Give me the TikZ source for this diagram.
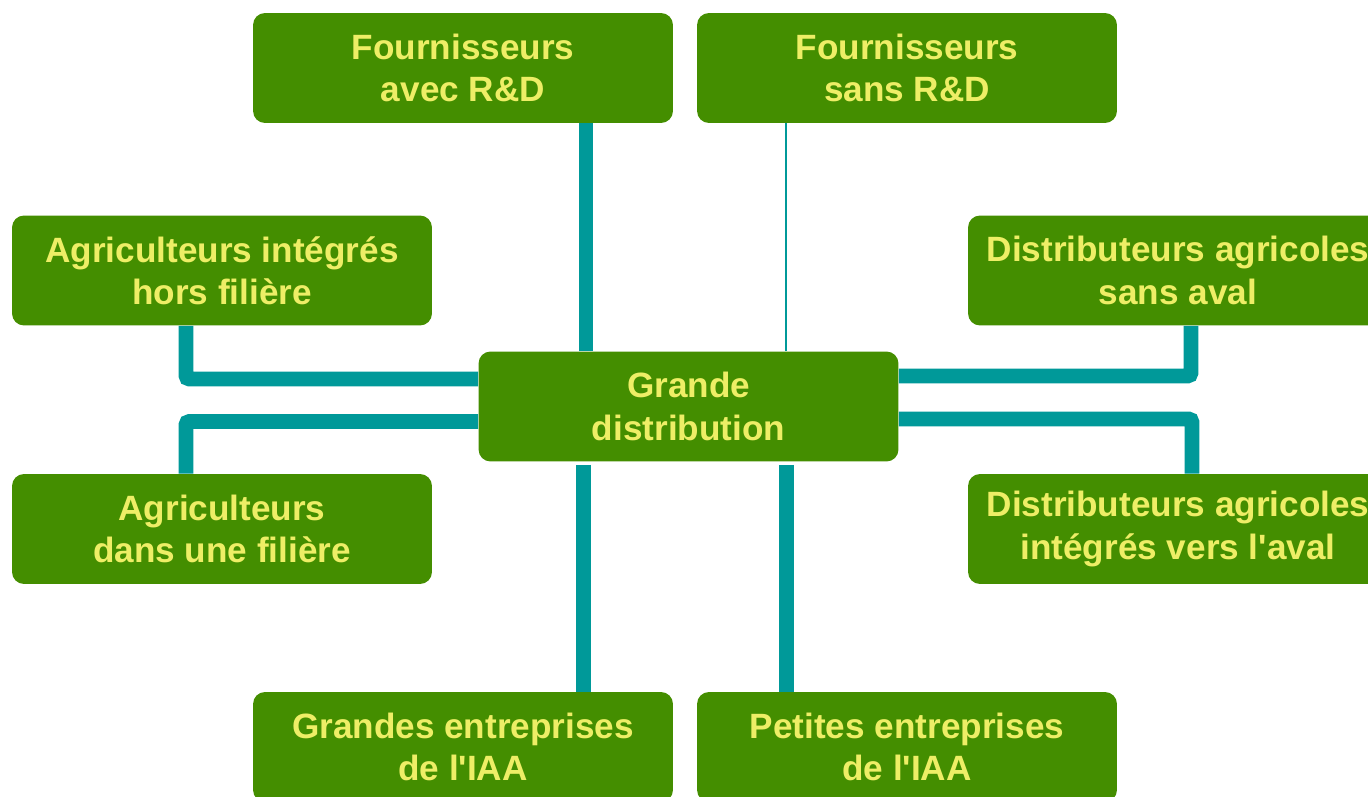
\documentclass[tikz,border=0pt]{standalone}
\usepackage{fontspec}
\setmainfont{Liberation Sans}
\usetikzlibrary{calc}

\definecolor{boxgreen}{HTML}{448E00}
\definecolor{boxtext}{HTML}{EEEE66}
\definecolor{linkteal}{HTML}{009999}

\tikzset{
  actor/.style={fill=boxgreen, rounded corners=0.24cm, minimum width=8.4cm, minimum height=2.2cm,
    align=center, text=boxtext, font=\fontsize{20}{24}\selectfont\bfseries, inner sep=0pt},
  link/.style={draw=linkteal, line width=8.5pt, rounded corners=2pt},
  thinlink/.style={draw=linkteal, line width=1pt}
}

\begin{document}
\begin{tikzpicture}[x=0.02cm, y=-0.02cm] % one unit is one pixel of the reference
      \useasboundingbox (0,0) rectangle (1368,797);

      % Centre node
      \node[actor] (grande) at (688.5,406.5) {Grande\\distribution};

      % Top row
      \node[actor] (avec) at (463,68) {Fournisseurs\\avec R\&D};
      \node[actor] (sans) at (907,68) {Fournisseurs\\sans R\&D};

      % Left column
      \node[actor] (hors) at (222,270.5) {Agriculteurs intégrés\\hors filière};
      \node[actor] (filiere) at (222,529) {Agriculteurs\\dans une filière};

      % Right column (cut by the border)
      \node[actor] (aval) at (1178,270.5) {Distributeurs agricoles\\sans aval};
      \node[actor] (integres) at (1178,529) {Distributeurs agricoles\\intégrés vers l\textquotesingle aval};

      % Bottom row
      \node[actor] (grandes) at (463,747) {Grandes entreprises\\de l\textquotesingle IAA};
      \node[actor] (petites) at (907,747) {Petites entreprises\\de l\textquotesingle IAA};

      % Vertical links through the centre
      \coordinate (ga) at ($(grande.north)+(-102.5,0)$);
      \coordinate (gs) at ($(grande.north)+(97.5,0)$);
      \coordinate (gg) at ($(grande.south)+(-105,3)$);
      \coordinate (gp) at ($(grande.south)+(98,3)$);
      \draw[link] (ga) -- (ga |- avec.south);
      \draw[thinlink] (gs) -- (gs |- sans.south);
      \draw[link] (gg) -- (gg |- grandes.north);
      \draw[link] (gp) -- (gp |- petites.north);

      % Elbow links on the sides
      \draw[link] ($(hors.south)+(-36,0)$) |- ($(grande.west)+(0,-27.5)$);
      \draw[link] ($(filiere.north)+(-36,0)$) |- ($(grande.west)+(0,15)$);
      \draw[link] ($(aval.south)+(13,0)$) |- ($(grande.east)+(0,-30.5)$);
      \draw[link] ($(integres.north)+(14,0)$) |- ($(grande.east)+(0,12.5)$);

\end{tikzpicture}
\end{document}
